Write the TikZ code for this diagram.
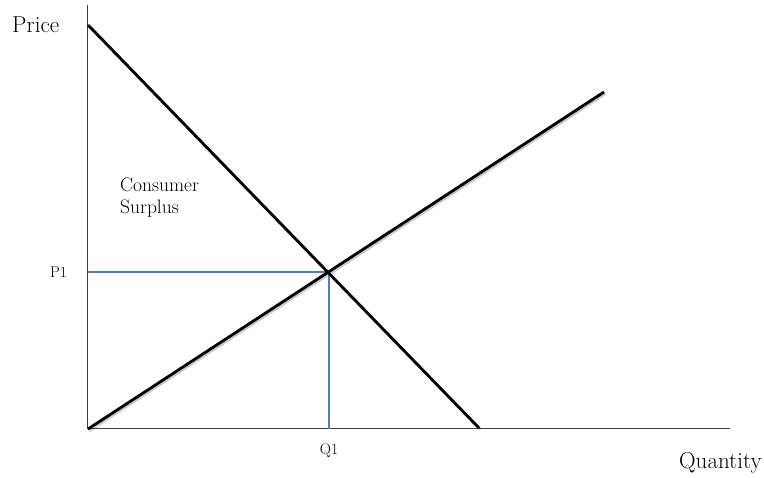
\documentclass[tikz,border=0pt]{standalone}
\usepackage{fontspec}
\definecolor{axisgray}{HTML}{404040}
\definecolor{qblue}{HTML}{4F81BD}
\definecolor{shadowgray}{HTML}{C8C8C8}
\begin{document}
\begin{tikzpicture}[x=1pt,y=-1pt,
  axisline/.style={draw=axisgray,line width=1pt},
  curveline/.style={draw=black,line width=2.8pt},
  curveshadow/.style={draw=shadowgray,line width=2.8pt},
  guideline/.style={draw=qblue,line width=2.8pt},
  bigtext/.style={font=\fontsize{23}{27}\selectfont,inner sep=0pt},
  midtext/.style={font=\fontsize{19.5}{22}\selectfont,inner sep=0pt,align=left},
  smalltext/.style={font=\fontsize{15.5}{18}\selectfont,inner sep=0pt}]
\useasboundingbox (0,0) rectangle (764,478);
% coordinates
\coordinate (O) at (87.5,429);
\coordinate (ytop) at (87.5,5);
\coordinate (xend) at (730,429);
\coordinate (Dtop) at (88,25);
\coordinate (Dbot) at (479,428);
\coordinate (Sbot) at (88,429);
\coordinate (Stop) at (604,92);
\coordinate (E) at (329,272);
\coordinate (Pax) at (88,272);
\coordinate (Qax) at (329,429);
% shadows
\draw[curveshadow] ([shift={(1.5,1.5)}]Dtop) -- ([shift={(1.5,1.5)}]Dbot);
\draw[curveshadow] ([shift={(1.5,1.5)}]Sbot) -- ([shift={(1.5,1.5)}]Stop);
% axes
\draw[axisline] (ytop) -- (O) -- (xend);
% blue guides
\draw[guideline] (Pax) -- (E) -- (Qax);
% demand and supply
\draw[curveline] (Dtop) -- (Dbot);
\draw[curveline] (Sbot) -- (Stop);
% labels
\node[bigtext,anchor=base west] (price) at (12,33) {Price};
\node[bigtext,anchor=base east] (quantity) at (762,469) {Quantity};
\node[smalltext,anchor=base] (p1) at (58.5,277.5) {P1};
\node[smalltext,anchor=base] (q1) at (329,454.5) {Q1};
\node[midtext,anchor=north west] (cs) at (120,178) {Consumer\\Surplus};
\end{tikzpicture}
\end{document}
